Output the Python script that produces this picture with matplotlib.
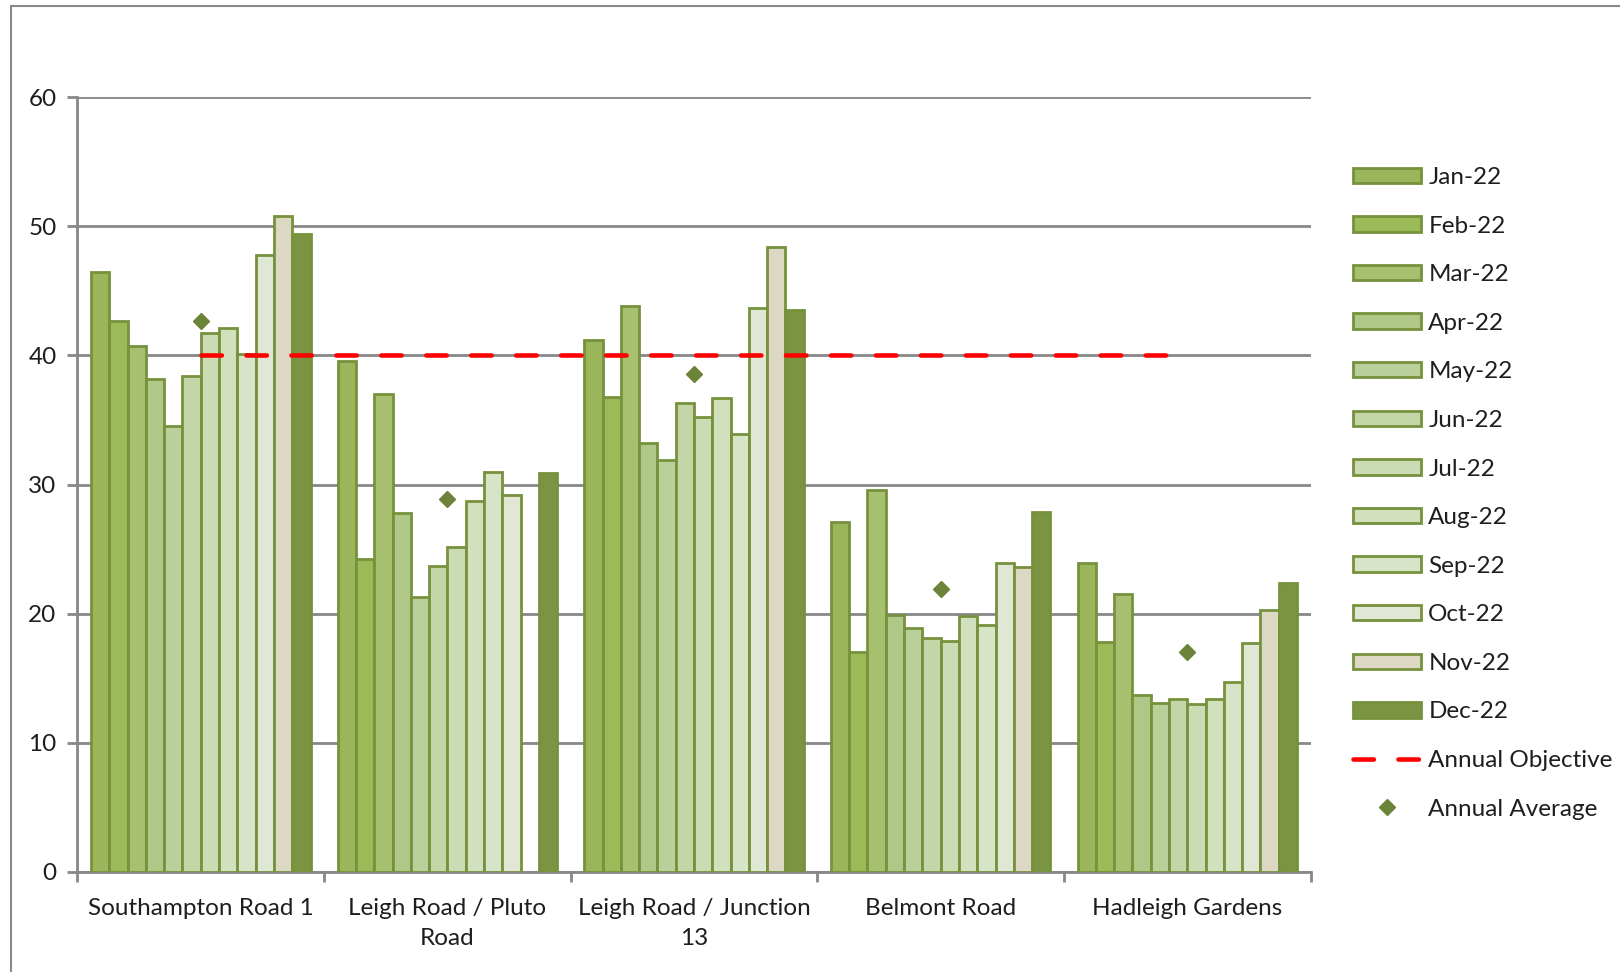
import numpy as np
import matplotlib.pyplot as plt
from matplotlib.patches import Rectangle

plt.rcParams['font.family'] = ['Lato', 'DejaVu Sans']

# Data
sites = ['Southampton Road 1', 'Leigh Road / Pluto\nRoad', 'Leigh Road / Junction\n13',
         'Belmont Road', 'Hadleigh Gardens']
months = ['Jan-22', 'Feb-22', 'Mar-22', 'Apr-22', 'May-22', 'Jun-22',
          'Jul-22', 'Aug-22', 'Sep-22', 'Oct-22', 'Nov-22', 'Dec-22']

southampton = [46.5, 42.7, 40.7, 38.2, 34.5, 38.4, 41.7, 42.1, 40.1, 47.8, 50.8, 49.4]
pluto = [39.6, 24.2, 37.0, 27.8, 21.3, 23.7, 25.2, 28.7, 31.0, 29.2, np.nan, 30.9]
junction13 = [41.2, 36.8, 43.8, 33.2, 31.9, 36.3, 35.2, 36.7, 33.9, 43.7, 48.4, 43.5]
belmont = [27.1, 17.0, 29.6, 19.9, 18.9, 18.1, 17.9, 19.8, 19.1, 23.9, 23.6, 27.9]
hadleigh = [23.9, 17.8, 21.5, 13.7, 13.1, 13.4, 13.0, 13.4, 14.7, 17.7, 20.3, 22.4]

annual_average = [42.7, 28.9, 38.6, 21.9, 17.0]
annual_objective = [40, 40, 40, 40, 40]

month_colors = ['#9BB55A', '#9BBB59', '#A7C070', '#B0C887', '#BAD09A', '#C4D6A8',
                '#CBDBB3', '#D2E0BD', '#D8E4C7', '#E0E8D5', '#DDD8C4', '#7A9442']
edge = '#76923C'
grid_c = '#888888'
text_c = '#1E1E1E'

values = np.array([southampton, pluto, junction13, belmont, hadleigh])

fig = plt.figure(figsize=(16.2, 9.72), dpi=100)
ax = fig.add_axes([0.0478, 0.103, 0.809 - 0.0478, 0.797])

x = np.arange(len(sites))
w = 0.89 / 12

bar_handles = []
for j, m in enumerate(months):
    b = ax.bar(x + (j - 5.5) * w, values[:, j], width=w, color=month_colors[j],
               edgecolor=edge, linewidth=2, label=m, zorder=3)
    bar_handles.append(b)

obj, = ax.plot(x, annual_objective, color='#FF0000', lw=3.3, dashes=(4.45, 5.36),
               dash_capstyle='round', zorder=4, label='Annual Objective')
avg, = ax.plot(x, annual_average, linestyle='none', marker='D', ms=8.5,
               color='#6B843A', mec='#6B843A', zorder=5, label='Annual Average')

ax.set_xlim(-0.5, 4.5)
ax.set_ylim(0, 60)
ax.set_yticks(range(0, 61, 10))
ax.yaxis.grid(True, color=grid_c, linewidth=2, zorder=0)
ax.set_axisbelow(True)

ax.set_xticks(x)
ax.set_xticklabels(sites, fontsize=17.5, color=text_c, linespacing=1.5)
ax.set_xticks(np.arange(-0.5, 5, 1), minor=True)
ax.tick_params(axis='x', which='major', length=0, pad=19)
ax.tick_params(axis='x', which='minor', length=7, width=2, color=grid_c)
ax.tick_params(axis='y', length=7, width=2, color=grid_c, labelsize=17.5,
               labelcolor=text_c, pad=8)

for s in ['top', 'right']:
    ax.spines[s].set_visible(False)
for s in ['left', 'bottom']:
    ax.spines[s].set_color(grid_c)
    ax.spines[s].set_linewidth(2)

handles = bar_handles + [obj, avg]
labels = months + ['Annual Objective', 'Annual Average']
ax.legend(handles, labels, loc='upper left', bbox_to_anchor=(1353 / 1620, 1 - 167 / 972),
          bbox_transform=fig.transFigure, frameon=False, fontsize=17.5,
          handlelength=2.8, handleheight=0.6, handletextpad=0.3,
          labelspacing=1.135, borderpad=0, borderaxespad=0, labelcolor=text_c)

# outer chart border (left and top edges visible)
fig.patches.append(Rectangle((10.5 / 1620, -0.1), 1.2, 1 - 6 / 972 + 0.1,
                             transform=fig.transFigure, fill=False,
                             edgecolor=grid_c, linewidth=1.5))

fig.savefig('out.png', dpi=100)
